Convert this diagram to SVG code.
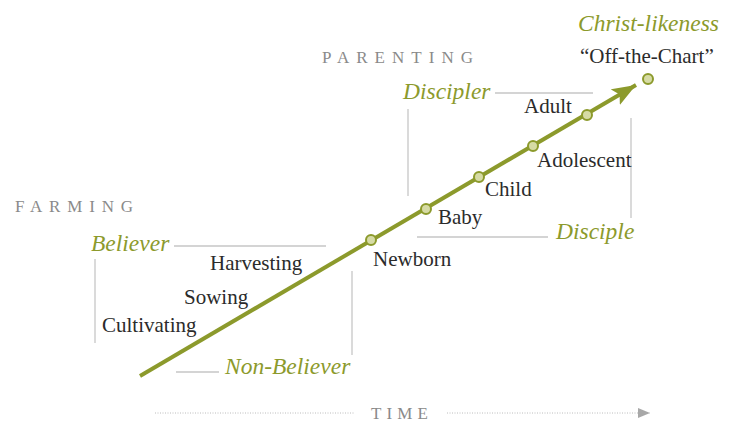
<svg xmlns="http://www.w3.org/2000/svg" width="731" height="422" viewBox="0 0 731 422">
  <style>
    .bg { fill: #ffffff; }
    .head { font-size: 17px; fill: #8a8a8a; letter-spacing: 7px; }
    .stage { font-size: 21px; fill: #2b2b2b; }
    .role { font-size: 23.5px; font-style: italic; fill: #8c9a2c; }
    .bracket { stroke: #c6c6c6; stroke-width: 1.3; fill: none; }
    .path { stroke: #8c9a2c; stroke-width: 4; fill: none; }
    .dot { fill: #d6dba5; stroke: #8c9a2c; stroke-width: 2; }
    .axis { stroke: #bcbcbc; stroke-width: 1; stroke-dasharray: 1 1.5; fill: none; }
  </style>
  <defs>
    <marker id="growth-head" markerUnits="userSpaceOnUse" markerWidth="26" markerHeight="20" refX="24" refY="9" orient="auto">
      <path d="M0,0 L24,9 L0,18 L5,9 Z" fill="#8c9a2c"/>
    </marker>
    <marker id="time-head" markerUnits="userSpaceOnUse" markerWidth="14" markerHeight="12" refX="12" refY="5" orient="auto">
      <path d="M0,0 L12,5 L0,10 Z" fill="#a8a8a8"/>
    </marker>
  </defs>
  <rect class="bg" x="0" y="0" width="731" height="422"/>

  <!-- connectors: growth line, brackets and time axis -->
  <g id="connectors">
    <line class="path" x1="140" y1="376" x2="636" y2="85" marker-end="url(#growth-head)"/>
    <!-- farming bracket -->
    <polyline class="bracket" points="174,246 326,246"/>
    <polyline class="bracket" points="95,259 95,343"/>
    <polyline class="bracket" points="176,372 219,372"/>
    <polyline class="bracket" points="352,271 352,355"/>
    <!-- parenting bracket -->
    <polyline class="bracket" points="495,93 593,93"/>
    <polyline class="bracket" points="408,109 408,196"/>
    <polyline class="bracket" points="417,237 548,237"/>
    <polyline class="bracket" points="631,118 631,218"/>
    <!-- time axis -->
    <line class="axis" x1="155" y1="413" x2="354" y2="413"/>
    <line class="axis" x1="447" y1="413" x2="650" y2="413" marker-end="url(#time-head)"/>
  </g>

  <g font-family="'Liberation Serif', 'DejaVu Serif', serif">
    <g id="farming"><text class="head" x="15" y="212" textLength="125" lengthAdjust="spacing">FARMING</text></g>
    <g id="parenting"><text class="head" x="322" y="63" textLength="158" lengthAdjust="spacing">PARENTING</text></g>
    <g id="time"><text class="head" x="371" y="419" textLength="64" lengthAdjust="spacing">TIME</text></g>

    <g id="believer"><text class="role" x="91" y="251">Believer</text></g>
    <g id="non-believer"><text class="role" x="225" y="374">Non-Believer</text></g>
    <g id="harvesting"><text class="stage" x="210" y="270">Harvesting</text></g>
    <g id="sowing"><text class="stage" x="184" y="304">Sowing</text></g>
    <g id="cultivating"><text class="stage" x="102" y="332">Cultivating</text></g>

    <g id="newborn">
      <circle class="dot" cx="371" cy="240" r="5"/>
      <text class="stage" x="373" y="266">Newborn</text>
    </g>
    <g id="baby">
      <circle class="dot" cx="426" cy="209" r="5"/>
      <text class="stage" x="438" y="224">Baby</text>
    </g>
    <g id="child">
      <circle class="dot" cx="479" cy="177" r="5"/>
      <text class="stage" x="485" y="196">Child</text>
    </g>
    <g id="adolescent">
      <circle class="dot" cx="533" cy="146" r="5"/>
      <text class="stage" x="537" y="167">Adolescent</text>
    </g>
    <g id="adult">
      <circle class="dot" cx="587" cy="115" r="5"/>
      <text class="stage" x="524" y="113">Adult</text>
    </g>
    <g id="discipler"><text class="role" x="403" y="99">Discipler</text></g>
    <g id="disciple"><text class="role" x="556" y="239">Disciple</text></g>

    <g id="christ-likeness">
      <circle class="dot" cx="648" cy="79" r="5"/>
      <text class="role" x="578" y="31">Christ-likeness</text>
      <text class="stage" x="580" y="63">“Off-the-Chart”</text>
    </g>
  </g>
</svg>
